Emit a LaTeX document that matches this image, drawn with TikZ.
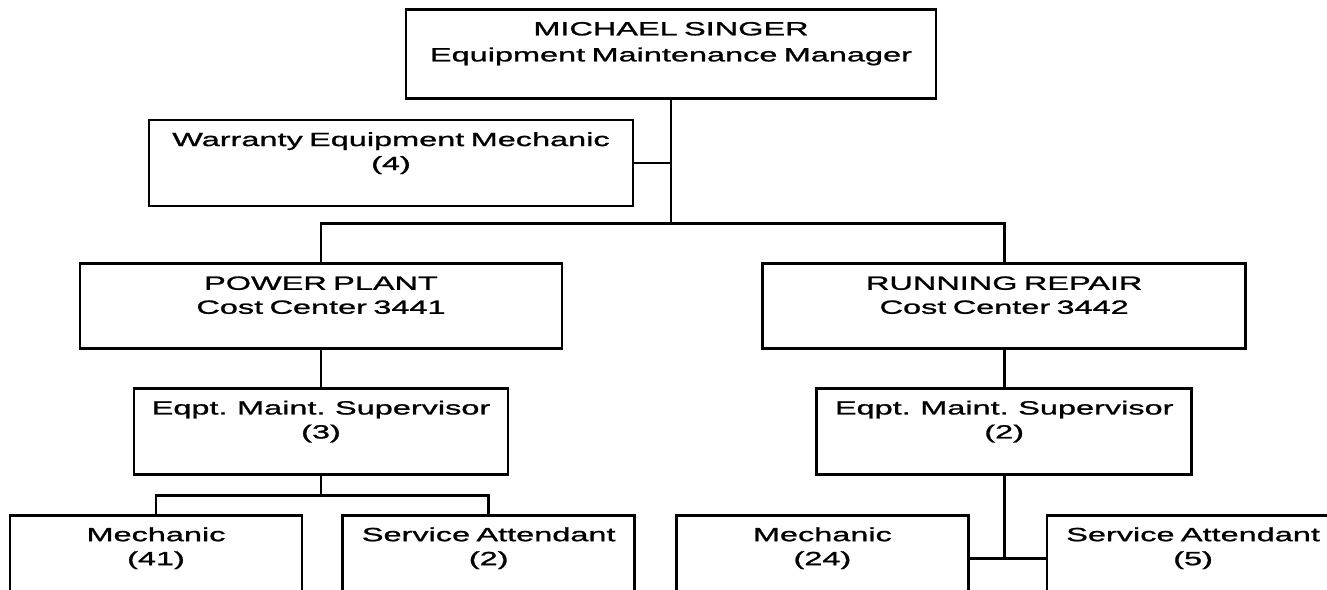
\documentclass[tikz,border=0pt]{standalone}
\usepackage{fontspec}
\setmainfont{Liberation Sans}[FakeStretch=1.7, FakeBold=1.2]
\usetikzlibrary{positioning}

\begin{document}
\begin{tikzpicture}[
    x=0.5pt, y=0.5pt,
    box/.style={
      rectangle, draw=black, line width=1.35pt,
      text width=#1, align=center,
      font=\fontsize{9.55pt}{12pt}\selectfont,
      inner xsep=0pt, inner ysep=6pt,
      text height=7pt, text depth=24pt
    },
    conn/.style={line width=1.35pt, color=black}
  ]
    \useasboundingbox (0,0) rectangle (1327,-589);
    \clip (0,0) rectangle (1327,-589);

    \node[box=265pt, anchor=north, text depth=25.5pt,
          font=\fontsize{9.55pt}{13pt}\selectfont] (mgr) at (671,-8)
      {MICHAEL SINGER\\Equipment Maintenance Manager};
    \node[box=242pt, below=9.5pt of mgr, xshift=-140pt] (warranty)
      {Warranty Equipment Mechanic\\(4)};

    \node[box=241pt, below=27.5pt of warranty, xshift=-35pt, text depth=23.5pt] (plant)
      {POWER PLANT\\Cost Center 3441};
    \node[box=241.5pt, right=99pt of plant, text depth=23.5pt] (repair)
      {RUNNING REPAIR\\Cost Center 3442};

    \node[box=187pt, below=18.5pt of plant] (plantsup)
      {Eqpt. Maint. Supervisor\\(3)};
    \node[box=187.5pt, below=18.5pt of repair] (repairsup)
      {Eqpt. Maint. Supervisor\\(2)};

    \node[box=146pt, below=19pt of plantsup, xshift=-82.5pt] (plantmech)
      {Mechanic\\(41)};
    \node[box=146pt, right=19pt of plantmech] (plantserv)
      {Service Attendant\\(2)};
    \node[box=146pt, right=19.5pt of plantserv] (repairmech)
      {Mechanic\\(24)};
    \node[box=146pt, right=38pt of repairmech] (repairserv)
      {Service Attendant\\(5)};

    % junctions
    \coordinate[below=62pt of mgr.south] (trunk);
    \coordinate[below=10pt of plantsup.south] (plantsplit);

    \draw[conn] (mgr.south) -- (trunk);
    \draw[conn] (warranty.east) -- (warranty.east -| mgr.south);
    \draw[conn] (plant.north) |- (trunk) -| (repair.north);
    \draw[conn] (plant) -- (plantsup);
    \draw[conn] (repair) -- (repairsup);
    \draw[conn] (plantsup.south) -- (plantsplit);
    \draw[conn] (plantmech.north) |- (plantsplit) -| (plantserv.north);
    \draw[conn] (repairsup.south) -- (repairsup.south |- repairmech.east);
    \draw[conn] (repairmech.east) -- (repairserv.west);
  \end{tikzpicture}
\end{document}
